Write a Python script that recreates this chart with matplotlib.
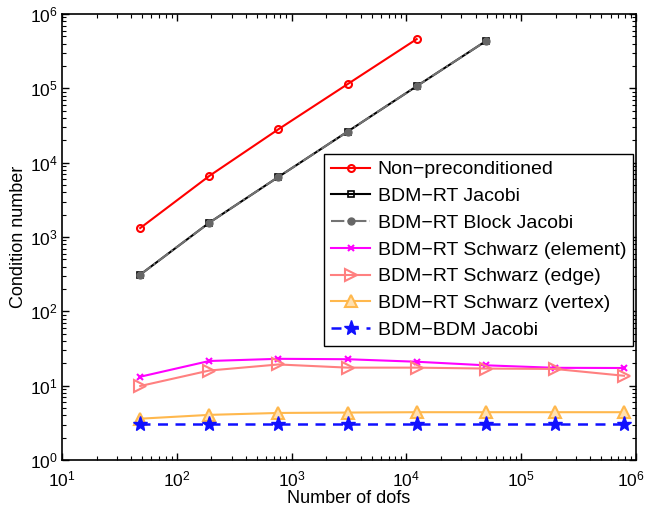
import matplotlib
matplotlib.use("Agg")
import matplotlib.pyplot as plt
from matplotlib.ticker import LogLocator, NullFormatter, FixedLocator
from matplotlib.transforms import ScaledTranslation

plt.rcParams['font.family'] = ['Liberation Sans', 'DejaVu Sans']
plt.rcParams['mathtext.fontset'] = 'custom'
plt.rcParams['mathtext.rm'] = 'Liberation Sans'
plt.rcParams['mathtext.it'] = 'Liberation Sans'

# degrees of freedom
dofs = [48, 192, 768, 3072, 12288, 49152, 196608, 786432]

# condition numbers
non_precond = [1320, 6640, 28200, 114000, 460000]
rt_jacobi = [312, 1560, 6440, 26200, 107000, 432000]
rt_block_jacobi = [312, 1560, 6440, 26200, 107000, 432000]
rt_schwarz_element = [13.2, 21.5, 23.0, 22.7, 21.0, 18.8, 17.4, 17.3]
rt_schwarz_edge = [9.9, 16.0, 19.3, 17.5, 17.5, 17.0, 16.8, 13.6]
rt_schwarz_vertex = [3.6, 4.05, 4.3, 4.35, 4.4, 4.4, 4.4, 4.4]
bdm_jacobi = [3.05, 3.05, 3.05, 3.05, 3.05, 3.05, 3.05, 3.05]

x_ticks = [1e1, 1e2, 1e3, 1e4, 1e5, 1e6]
y_ticks = [1e0, 1e1, 1e2, 1e3, 1e4, 1e5, 1e6]

fig = plt.figure(figsize=(6.48, 5.14), dpi=100)
ax = fig.add_axes([0.0957, 0.105, 0.8858, 0.8677])

ax.loglog(dofs[:5], non_precond, '-o', color='r', lw=1.5, ms=5, mfc='none', mew=1.5,
          label='Non\u2212preconditioned')
ax.loglog(dofs[:6], rt_jacobi, '-s', color='k', lw=1.5, ms=5, mfc='none', mew=1.2,
          label='BDM\u2212RT Jacobi')
ax.loglog(dofs[:6], rt_block_jacobi, '-.', color='0.45', marker='o', lw=1.5, ms=5,
          mec='0.4', mfc='0.4', label='BDM\u2212RT Block Jacobi')
ax.loglog(dofs, rt_schwarz_element, '-x', color='#ff00ff', lw=1.5, ms=4, mew=1.5,
          label='BDM\u2212RT Schwarz (element)')
ax.loglog(dofs, rt_schwarz_edge, '->', color='#ff8080', lw=1.5, ms=8, mfc='none', mew=1.5,
          label='BDM\u2212RT Schwarz (edge)')
ax.loglog(dofs, rt_schwarz_vertex, '-^', color='#ffb84d', lw=1.5, ms=8, mfc='#ffe0b0', mew=1.5,
          label='BDM\u2212RT Schwarz (vertex)')
ax.loglog(dofs, bdm_jacobi, '--*', color='#1010ff', lw=1.8, ms=11, mfc='#1010ff',
          dashes=(4, 3), label='BDM\u2212BDM Jacobi')

ax.set_xlim(10, 1e6)
ax.set_ylim(1, 1e6)
ax.xaxis.set_major_locator(FixedLocator(x_ticks))
ax.yaxis.set_major_locator(FixedLocator(y_ticks))
ax.xaxis.set_minor_locator(LogLocator(base=10, subs=range(2, 10), numticks=20))
ax.yaxis.set_minor_locator(LogLocator(base=10, subs=range(2, 10), numticks=20))
ax.xaxis.set_minor_formatter(NullFormatter())
ax.yaxis.set_minor_formatter(NullFormatter())

ax.tick_params(which='both', direction='in', top=True, right=True, labelsize=12.5)
ax.tick_params(axis='x', which='major', pad=7)
ax.tick_params(axis='y', which='major', pad=3)
ax.tick_params(which='major', length=5, width=1)
ax.tick_params(which='minor', length=3, width=0.8)
for sp in ax.spines.values():
    sp.set_linewidth(1.2)

ax.set_xlabel('Number of dofs', fontsize=13, labelpad=0)
ax.set_ylabel('Condition number', fontsize=13, labelpad=2)

leg = ax.legend(loc='upper right', bbox_to_anchor=(0.995, 0.686), fontsize=14,
                fancybox=False, framealpha=1, edgecolor='k', borderpad=0.35,
                labelspacing=0.47, handlelength=2.0, handletextpad=0.4, borderaxespad=0)
leg.get_frame().set_linewidth(1.0)

# keep the 10^6 label inside the figure
fig.canvas.draw()
for tick in ax.xaxis.get_major_ticks():
    if abs(tick.get_loc() - 1e6) < 1:
        lab = tick.label1
        lab.set_transform(lab.get_transform() + ScaledTranslation(-4 / 72, 0, fig.dpi_scale_trans))

fig.savefig('out.png', dpi=100)
